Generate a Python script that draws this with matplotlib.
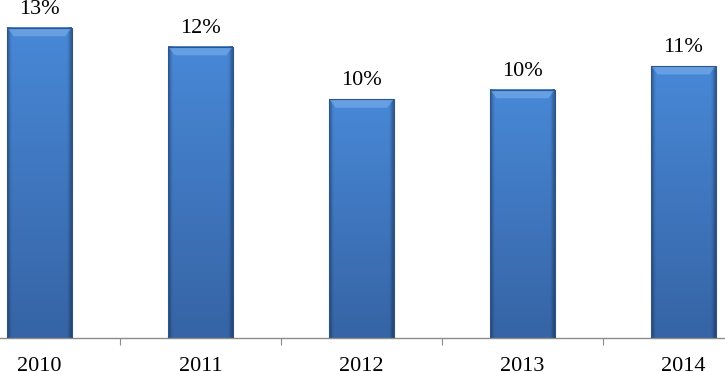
import matplotlib
matplotlib.use("Agg")
import matplotlib.pyplot as plt
import numpy as np
from matplotlib.patches import Rectangle, Polygon

years = ["2010", "2011", "2012", "2013", "2014"]
values = [13.0, 12.2, 10.0, 10.4, 11.4]
labels = ["13%", "12%", "10%", "10%", "11%"]

plt.rcParams['font.family'] = ['Liberation Serif', 'DejaVu Serif']

fig = plt.figure(figsize=(7.25, 3.72), dpi=100)
ax = fig.add_axes([-41/725, 34/372, 805/725, 334/372])
ax.set_xlim(-0.5, 4.5)
ax.set_ylim(0, 14)

w = 0.4
top_c = np.array([72, 136, 215]) / 255
bot_c = np.array([54, 100, 165]) / 255
for i, v in enumerate(values):
    ny, nx = 100, 40
    t = np.linspace(1, 0, ny)[:, None]
    col = bot_c[None, None, :] * (1 - t[..., None]) + top_c[None, None, :] * t[..., None]
    col = np.repeat(col, nx, axis=1)
    xs = np.linspace(-1, 1, nx)
    edge = np.clip((np.abs(xs) - 0.88) / 0.12, 0, 1)
    col = col * (1 - 0.3 * edge[None, :, None])
    ax.imshow(col, extent=[i - w/2, i + w/2, 0, v], aspect='auto', zorder=2, origin='upper')
    # top bevel trapezoid
    bx = w * 0.1
    ax.add_patch(Polygon([(i - w/2, v), (i + w/2, v), (i + w/2 - bx, v - 0.35), (i - w/2 + bx, v - 0.35)],
                         closed=True, facecolor=(0.5, 0.7, 0.93), edgecolor='none', zorder=3, alpha=0.55))
    ax.add_patch(Rectangle((i - w/2, 0), w, v, facecolor='none', edgecolor=(0.18, 0.33, 0.55), linewidth=0.8, zorder=4))
    ax.text(i, v + 0.38, labels[i], ha='center', va='bottom', fontsize=16, color='black')

ax.set_xlim(-0.5, 4.5)
ax.set_ylim(0, 14)

for s in ['top', 'right', 'left']:
    ax.spines[s].set_visible(False)
ax.spines['bottom'].set_color('#8c8c8c')
ax.spines['bottom'].set_linewidth(1.0)
ax.set_yticks([])
ax.set_xticks([0.5, 1.5, 2.5, 3.5])
ax.set_xticklabels([])
ax.tick_params(axis='x', which='major', direction='out', length=5, color='#8c8c8c')
ax.set_xticks(range(5), minor=True)
ax.set_xticklabels(years, minor=True, fontsize=16)
ax.tick_params(axis='x', which='minor', length=0, pad=14)

fig.savefig("out.png", dpi=100)
